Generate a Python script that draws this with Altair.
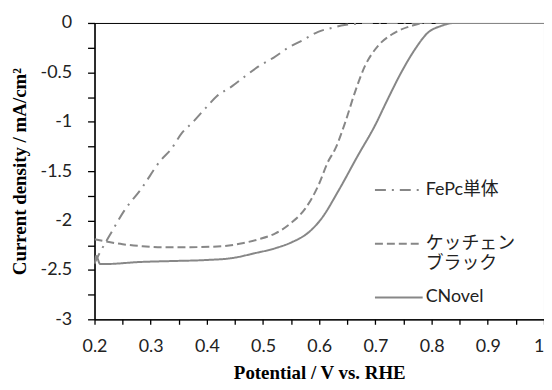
import altair as alt
import pandas as pd

# ---- data ----
v_fepc = [0.200, 0.210, 0.230, 0.253, 0.283, 0.318, 0.336, 0.356, 0.374, 0.398, 0.418,
          0.445, 0.468, 0.492, 0.519, 0.545, 0.572, 0.598, 0.622, 0.645, 0.663, 0.680,
          0.750, 0.850, 1.000]
j_fepc = [-2.43, -2.32, -2.12, -1.90, -1.68, -1.39, -1.28, -1.11, -1.01, -0.86, -0.74,
          -0.64, -0.54, -0.44, -0.35, -0.25, -0.17, -0.09, -0.05, -0.02, -0.01, 0.00,
          0.00, 0.00, 0.00]

v_kb = [0.200, 0.250, 0.285, 0.320, 0.368, 0.427, 0.463, 0.492, 0.522, 0.551, 0.575,
        0.598, 0.616, 0.628, 0.646, 0.663, 0.681, 0.705, 0.734, 0.764, 0.787, 0.850, 1.000]
j_kb = [-2.19, -2.24, -2.26, -2.27, -2.27, -2.26, -2.23, -2.19, -2.13, -2.02, -1.88,
        -1.65, -1.40, -1.28, -1.01, -0.71, -0.44, -0.23, -0.10, -0.03, 0.00, 0.00, 0.00]

v_cn = [0.200, 0.203, 0.210, 0.221, 0.280, 0.339, 0.398, 0.445, 0.486, 0.522, 0.551,
        0.581, 0.604, 0.634, 0.669, 0.699, 0.722, 0.746, 0.770, 0.793, 0.817, 0.840,
        0.900, 1.000]
j_cn = [-2.44, -2.36, -2.44, -2.44, -2.42, -2.41, -2.40, -2.38, -2.33, -2.28, -2.22,
        -2.12, -1.98, -1.70, -1.34, -1.04, -0.77, -0.50, -0.27, -0.10, -0.03, 0.00,
        0.00, 0.00]

series_names = ["FePc単体", "ケッチェンブラック", "CNovel"]
x_ticks = [round(0.2 + 0.05 * i, 2) for i in range(17)]
y_ticks = [round(-3 + 0.25 * i, 2) for i in range(13)]

rows = []
for name, vs, js in zip(series_names, [v_fepc, v_kb, v_cn], [j_fepc, j_kb, j_cn]):
    for k, (v, j) in enumerate(zip(vs, js)):
        rows.append({"series": name, "V": v, "J": j, "order": k})
df = pd.DataFrame(rows)

label_font = "Lato, 'Noto Sans CJK JP'"
title_font = "'Liberation Serif', 'Times New Roman', serif"

chart = alt.Chart(df).mark_line(strokeWidth=2, color="#878787", clip=True,
                                interpolate="monotone").encode(
    x=alt.X("V:Q",
            scale=alt.Scale(domain=[0.2, 1.0], nice=False, zero=False),
            axis=alt.Axis(values=x_ticks,
                          labelExpr="round(datum.value*100) % 10 == 0 ? '' + datum.value : ''",
                          labelAlign={"expr": "datum.value >= 1 ? 'right' : 'center'"},
                          title="Potential / V vs. RHE", labelFlush=False,
                          grid=False, tickSize=5, labelPadding=13, titlePadding=9)),
    y=alt.Y("J:Q",
            scale=alt.Scale(domain=[-3, 0], nice=False, zero=False),
            axis=alt.Axis(values=y_ticks,
                          labelExpr="datum.value % 0.5 == 0 ? '' + datum.value : ''",
                          title="Current density / mA/cm²", labelFlush=False,
                          grid=False, tickSize=7, labelPadding=16, titlePadding=11)),
    strokeDash=alt.StrokeDash(
        "series:N",
        scale=alt.Scale(domain=series_names, range=[[11, 6, 2, 6], [8, 4], [1, 0]]),
        legend=alt.Legend(
            title=None, orient="none", legendX=281, legendY=143,
            symbolType="stroke", symbolSize=2304, symbolStrokeWidth=2,
            symbolStrokeColor="#878787", labelOffset=2, rowPadding=0,
            gridAlign="all",
            labelFont=label_font, labelFontSize=18, labelColor="#222222",
            labelExpr="datum.label == 'ケッチェンブラック' ? ['ケッチェン', 'ブラック'] : datum.label",
            labelLimit=200),
    ),
    order="order:Q",
).properties(
    width=452, height=298,
    autosize=alt.AutoSizeParams(type="none"),
    padding={"left": 87, "top": 14, "right": 0, "bottom": 62},
).configure_view(
    stroke="black", strokeWidth=1
).configure_axis(
    domainColor="black", tickColor="black", domainWidth=1.3, tickWidth=1.3,
    labelFont=label_font, labelFontSize=18, labelColor="#222222",
    titleFont=title_font, titleFontSize=19, titleFontWeight="bold", titleColor="black",
)

chart.save("out.html", embed_options={"renderer": "svg", "actions": False})
